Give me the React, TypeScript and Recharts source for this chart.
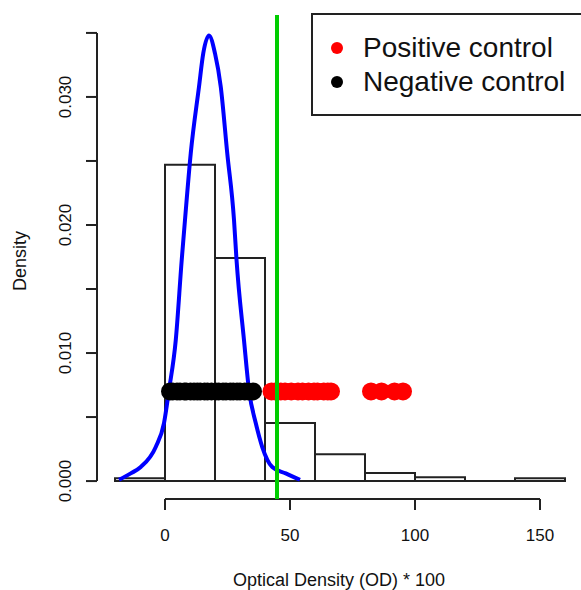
import { ComposedChart, XAxis, YAxis, Line, Scatter, ReferenceArea, ReferenceLine, Label } from "recharts";

// histogram of all samples (density scale, bin width 20)
const binEdges = [-20, 0, 20, 40, 60, 80, 100, 120, 140, 160];
const binDensity = [0.00023, 0.0247, 0.01742, 0.00453, 0.0021, 0.00063, 0.0003, 0, 0.00023];

// fitted density curve
const curveX = [-18.4, -13.7, -9.7, -3.7, -0.4, 1.6, 4.3, 6.7, 8.0, 10.3, 13.6, 15.3, 17.6, 20.0, 22.3, 24.9, 27.6, 28.6, 31.6, 33.6, 36.3, 38.9, 42.9, 48.3, 54.0];
const curveY = [0.0001, 0.0006, 0.0011, 0.00266, 0.00453, 0.0071, 0.011, 0.0173, 0.0204, 0.0256, 0.0308, 0.0334, 0.0348, 0.0334, 0.0308, 0.0256, 0.0204, 0.0173, 0.011, 0.0071, 0.00453, 0.00266, 0.0011, 0.0006, 0.0001];

// controls, drawn as a strip at a fixed density level
const negControl = [2.0, 3.1, 4.8, 6.0, 7.7, 8.5, 10.2, 11.6, 12.9, 14.1, 15.8, 17.0, 18.6, 20.3, 21.5, 23.2, 24.4, 26.1, 27.3, 28.8, 30.0, 31.9, 33.4, 35.2];
const posControl = [42.6, 44.1, 46.3, 48.0, 50.5, 53.2, 55.0, 57.4, 59.6, 61.0, 63.5, 65.1, 66.4, 82.4, 86.6, 91.8, 95.2];
const stripLevel = 0.007;
const cutoff = 44.8;

const xTicks = [0, 50, 100, 150];
const yTicks = [0, 0.005, 0.01, 0.015, 0.02, 0.025, 0.03, 0.035];
const yLabelled = [0, 0.01, 0.02, 0.03];

const X_DOMAIN: [number, number] = [-27.2, 166.4];
const Y_DOMAIN: [number, number] = [-0.0014, 0.0364];

const FONT = "'Liberation Sans', Arial, sans-serif";
const INK = "#222";

const curveData = curveX.map((x, i) => ({ x, y: curveY[i] }));
const negData = negControl.map((x) => ({ x, y: stripLevel }));
const posData = posControl.map((x) => ({ x, y: stripLevel }));

function XTick(props: any) {
  const { x, y, payload } = props;
  return (
    <text x={x} y={y + 29} textAnchor="middle" fontSize={17} fontFamily={FONT} fill="#111">
      {payload.value}
    </text>
  );
}

function YTick(props: any) {
  const { x, y, payload } = props;
  if (!yLabelled.some((v) => Math.abs(v - payload.value) < 1e-9)) return <g />;
  const tx = x - 13;
  return (
    <text x={tx} y={y} transform={`rotate(-90, ${tx}, ${y})`} textAnchor="middle" fontSize={17} fontFamily={FONT} fill="#111">
      {payload.value.toFixed(3)}
    </text>
  );
}

const dot = (color: string) => (props: any) => <circle cx={props.cx} cy={props.cy} r={9} fill={color} />;

export default function App() {
  return (
    <div style={{ position: "absolute", left: 0, top: 0, width: 581, height: 590, overflow: "hidden", background: "#fff", fontFamily: FONT }}>
      <ComposedChart width={581} height={590} margin={{ top: 15, right: 0, bottom: 0, left: 0 }}>
        <XAxis
          type="number"
          dataKey="x"
          domain={X_DOMAIN}
          ticks={xTicks}
          interval={0}
          allowDataOverflow
          height={91}
          axisLine={false}
          tickSize={11}
          tickLine={{ stroke: INK, strokeWidth: 2 }}
          tick={XTick}
        >
          <Label
            content={(p: any) => (
              <text x={p.viewBox.x + p.viewBox.width / 2} y={586} textAnchor="middle" fontSize={18} fontFamily={FONT} fill="#111">
                Optical Density (OD) * 100
              </text>
            )}
          />
        </XAxis>
        <YAxis
          type="number"
          dataKey="y"
          domain={Y_DOMAIN}
          ticks={yTicks}
          interval={0}
          allowDataOverflow
          width={97}
          axisLine={false}
          tickSize={11}
          tickLine={{ stroke: INK, strokeWidth: 2 }}
          tick={YTick}
        >
          <Label
            content={(p: any) => {
              const cy = p.viewBox.y + p.viewBox.height / 2 + 4;
              return (
                <text x={26} y={cy} transform={`rotate(-90, 26, ${cy})`} textAnchor="middle" fontSize={18} fontFamily={FONT} fill="#111">
                  Density
                </text>
              );
            }}
          />
        </YAxis>

        {/* axis lines, R style: only across the tick range */}
        <ReferenceLine segment={[{ x: xTicks[0], y: Y_DOMAIN[0] }, { x: xTicks[xTicks.length - 1], y: Y_DOMAIN[0] }]} stroke={INK} strokeWidth={2} ifOverflow="visible" />
        <ReferenceLine segment={[{ x: X_DOMAIN[0], y: yTicks[0] }, { x: X_DOMAIN[0], y: yTicks[yTicks.length - 1] }]} stroke={INK} strokeWidth={2} ifOverflow="visible" />

        {binDensity.map((d, i) => (
          <ReferenceArea key={i} x1={binEdges[i]} x2={binEdges[i + 1]} y1={0} y2={d} fill="none" fillOpacity={0} stroke={INK} strokeWidth={2} ifOverflow="visible" />
        ))}
        <ReferenceLine segment={[{ x: binEdges[0], y: 0 }, { x: binEdges[binEdges.length - 1], y: 0 }]} stroke={INK} strokeWidth={2} />

        <Line data={curveData} dataKey="y" type="monotone" stroke="#0000ff" strokeWidth={4} dot={false} isAnimationActive={false} />
        <Scatter data={posData} dataKey="y" shape={dot("#ff0000")} isAnimationActive={false} />
        <Scatter data={negData} dataKey="y" shape={dot("#000000")} isAnimationActive={false} />

        <ReferenceLine x={cutoff} stroke="#00cd00" strokeWidth={4} zIndex={700} />
      </ComposedChart>

      <div
        style={{
          position: "absolute",
          left: 311,
          top: 13,
          width: 340,
          border: `2px solid ${INK}`,
          padding: "16px 0 15px 0",
          background: "#fff",
          fontSize: 28,
          lineHeight: "34px",
          color: "#111",
        }}
      >
        {[
          { name: "Positive control", color: "#ff0000" },
          { name: "Negative control", color: "#000000" },
        ].map((it) => (
          <div key={it.name} style={{ display: "flex", alignItems: "center", height: 34 }}>
            <span style={{ display: "inline-block", width: 12, height: 12, borderRadius: 6, background: it.color, marginLeft: 18, marginRight: 20 }} />
            <span>{it.name}</span>
          </div>
        ))}
      </div>
    </div>
  );
}
